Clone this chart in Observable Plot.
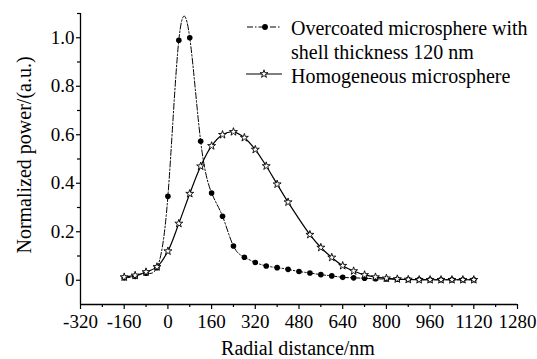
<!DOCTYPE html>
<html>
<head>
<meta charset="utf-8">
<script src="https://cdn.jsdelivr.net/npm/d3@7"></script>
<script src="https://cdn.jsdelivr.net/npm/@observablehq/plot@0.6"></script>
<style>
  html, body { margin: 0; padding: 0; background: #fff; }
  #wrap { position: relative; width: 537px; height: 359px; }
  #legend { position: absolute; left: 0; top: 0; pointer-events: none; }
  svg, svg text { font-family: "Liberation Serif", "Times New Roman", Times, serif !important; }
</style>
</head>
<body>
<div id="wrap"></div>
<script>
// Overcoated microsphere with shell thickness 120 nm (filled circles)
const coatedX = [-160,-120,-80,-40,0,40,80,120,160,200,240,280,320,360,400,440,480,520,560,600,640,680,720,760,800,840,880,920,960,1000,1040,1080,1120];
const coatedY = [0.010,0.016,0.029,0.052,0.346,0.990,1.000,0.573,0.360,0.264,0.141,0.095,0.073,0.059,0.052,0.045,0.036,0.030,0.023,0.018,0.012,0.010,0.008,0.006,0.005,0.004,0.003,0.003,0.002,0.002,0.002,0.002,0.002];
// Homogeneous microsphere (open stars)
const homoX = [-160,-120,-80,-40,0,40,80,120,160,200,240,280,320,360,400,440,520,560,600,640,680,720,760,800,840,880,920,960,1000,1040,1080,1120];
const homoY = [0.013,0.020,0.034,0.055,0.120,0.234,0.357,0.470,0.554,0.600,0.612,0.588,0.539,0.471,0.396,0.322,0.188,0.135,0.094,0.060,0.038,0.022,0.013,0.008,0.005,0.003,0.002,0.002,0.002,0.002,0.002,0.002];

const xMajor = [-320,-160,0,160,320,480,640,800,960,1120,1280];
const xMinor = [-240,-80,80,240,400,560,720,880,1040,1200];
const yMajor = [0,0.2,0.4,0.6,0.8,1.0];
const yMinor = [0.1,0.3,0.5,0.7,0.9,1.1];
const xDomain = [-320,1280];
const yDomain = [-0.1,1.1];

const seriesNames = ["Overcoated microsphere with", "shell thickness 120 nm", "Homogeneous microsphere"];
const xLabel = "Radial distance/nm";
const yLabel = "Normalized power/(a.u.)";

const coated = coatedX.map((x, i) => ({x, y: coatedY[i]}));
const homo = homoX.map((x, i) => ({x, y: homoY[i]}));

const FONT = "Liberation Serif";

const chart = Plot.plot({
  width: 537,
  height: 359,
  marginLeft: 80,
  marginRight: 20,
  marginTop: 13,
  marginBottom: 55,
  style: {fontFamily: FONT, fontSize: "19px", color: "black", background: "white", overflow: "visible"},
  x: {domain: xDomain},
  y: {domain: yDomain},
  marks: [
    Plot.axisX({ticks: xMajor, tickSize: 5, tickPadding: 5, tickFormat: d => String(d), label: null, strokeWidth: 1.2}),
    Plot.axisX({ticks: xMinor, tickSize: 3, tickFormat: () => "", label: null, strokeWidth: 1.2}),
    Plot.axisY({ticks: yMajor, tickSize: 4, tickPadding: 2, tickFormat: d => d === 0 ? "0" : d.toFixed(1), label: null, strokeWidth: 1.2}),
    Plot.axisY({ticks: yMinor, tickSize: 3, tickFormat: () => "", label: null, strokeWidth: 1.2}),
    Plot.ruleX([xDomain[0]], {stroke: "black", strokeWidth: 1.3}),
    Plot.ruleY([yDomain[0]], {stroke: "black", strokeWidth: 1.3}),
    Plot.line(coated, {x: "x", y: "y", curve: "natural", stroke: "black", strokeWidth: 1, strokeDasharray: "6,2,1.5,2"}),
    Plot.line(homo, {x: "x", y: "y", curve: "catmull-rom", stroke: "black", strokeWidth: 1.2}),
    Plot.dot(coated, {x: "x", y: "y", r: 2.8, fill: "black", stroke: "none"}),
    Plot.dot(homo, {x: "x", y: "y", symbol: "star", r: 2.5, fill: "white", stroke: "black", strokeWidth: 0.9})
  ]
});

const wrap = document.getElementById("wrap");
wrap.appendChild(chart);

const svg = d3.select(chart);
svg.append("text")
  .attr("x", 298).attr("y", 355)
  .attr("text-anchor", "middle")
  .attr("font-family", FONT).attr("font-size", 20).attr("fill", "black")
  .text(xLabel);
svg.append("text")
  .attr("transform", "translate(31,155) rotate(-90)")
  .attr("text-anchor", "middle")
  .attr("font-family", FONT).attr("font-size", 20).attr("fill", "black")
  .text(yLabel);

// Legend overlay
const leg = d3.select(wrap).append("svg")
  .attr("id", "legend").attr("width", 537).attr("height", 359);
leg.append("line").attr("x1", 247).attr("x2", 280).attr("y1", 27).attr("y2", 27)
  .attr("stroke", "black").attr("stroke-width", 1).attr("stroke-dasharray", "6,2,1.5,2");
leg.append("circle").attr("cx", 265).attr("cy", 27).attr("r", 2.9).attr("fill", "black");
leg.append("line").attr("x1", 246).attr("x2", 282).attr("y1", 74).attr("y2", 74)
  .attr("stroke", "black").attr("stroke-width", 1.2);
leg.append("path").attr("d", d3.symbol(d3.symbolStar, 2.5 * 2.5 * Math.PI)())
  .attr("transform", "translate(264,74)")
  .attr("fill", "white").attr("stroke", "black").attr("stroke-width", 0.9);
const lt = leg.append("g").attr("font-family", FONT).attr("font-size", 20).attr("fill", "black");
lt.append("text").attr("x", 291).attr("y", 35).text(seriesNames[0]);
lt.append("text").attr("x", 291).attr("y", 59).text(seriesNames[1]);
lt.append("text").attr("x", 291).attr("y", 83).text(seriesNames[2]);
</script>
</body>
</html>
